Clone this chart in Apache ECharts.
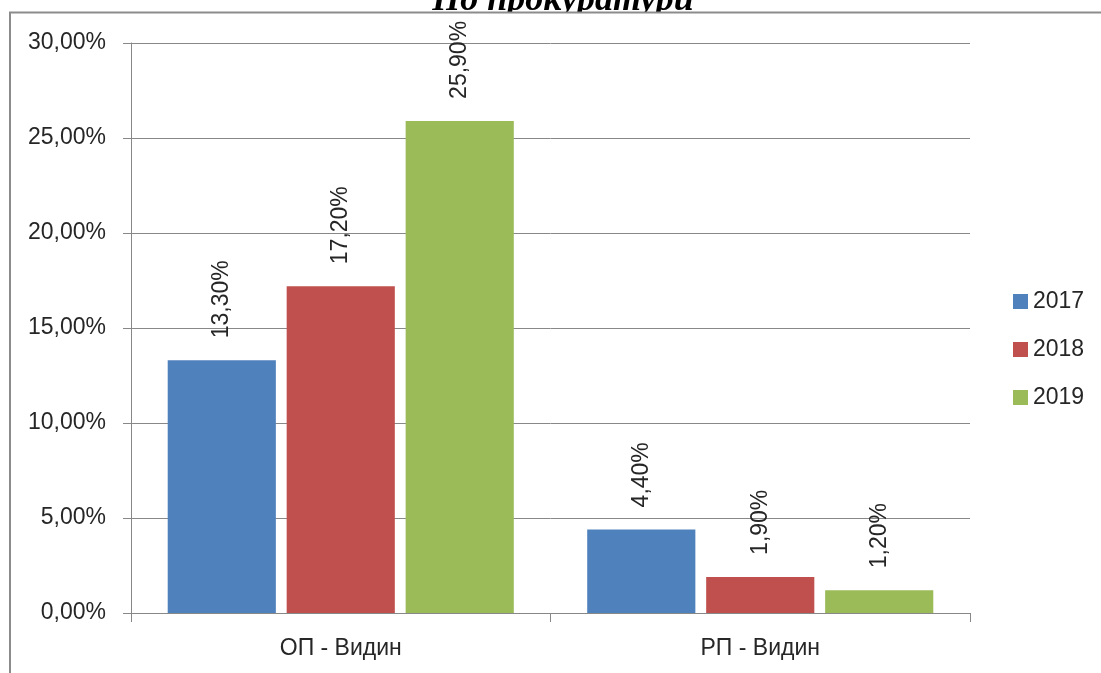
<!DOCTYPE html>
<html>
<head>
<meta charset="utf-8">
<script src="https://cdn.jsdelivr.net/npm/echarts@6/dist/echarts.min.js"></script>
<style>
html,body{margin:0;padding:0;background:#fff;}
#chart{width:1101px;height:673px;}
</style>
</head>
<body>
<div id="chart"></div>
<script>
const categories = ['ОП - Видин', 'РП - Видин'];
const seriesNames = ['2017', '2018', '2019'];
const values2017 = [13.3, 4.4];
const values2018 = [17.2, 1.9];
const values2019 = [25.9, 1.2];
const yTicks = [0, 5, 10, 15, 20, 25, 30];
const titleText = 'По прокуратури';

const colors = ['#4f81bd', '#c0504d', '#9bbb59'];
const fmt = v => Number(v).toFixed(2).replace('.', ',') + '%';
const font = '"Liberation Sans", Arial, sans-serif';

const chart = echarts.init(document.getElementById('chart'));
const dataSets = [values2017, values2018, values2019];

chart.setOption({
  animation: false,
  color: colors,
  graphic: [
    { type: 'text', x: 563, y: 19, z: 1, style: { text: titleText, font: 'italic bold 36px "Liberation Serif", "Times New Roman", serif', fill: '#000', align: 'center', verticalAlign: 'bottom' } },
    { type: 'rect', z: 2, shape: { x: 0, y: 12, width: 1101, height: 8 }, style: { fill: '#fff' } },
    { type: 'line', z: 3, shape: { x1: 9, y1: 12.5, x2: 1101, y2: 12.5 }, style: { stroke: '#8c8c8c', lineWidth: 2 } },
    { type: 'line', z: 3, shape: { x1: 10, y1: 12, x2: 10, y2: 673 }, style: { stroke: '#8c8c8c', lineWidth: 2 } }
  ],
  legend: {
    orient: 'vertical',
    left: 1008,
    top: 285,
    itemWidth: 15,
    itemHeight: 15,
    itemGap: 25,
    icon: 'rect',
    textStyle: { fontFamily: font, fontSize: 23, color: '#262626' },
    data: seriesNames
  },
  grid: { left: 131, right: 131, top: 43, bottom: 60, containLabel: false },
  xAxis: {
    type: 'category',
    data: categories,
    axisLine: { lineStyle: { color: '#888', width: 1 } },
    axisTick: { show: true, length: 9, lineStyle: { color: '#888' } },
    axisLabel: { fontFamily: font, fontSize: 23, color: '#262626', margin: 24 }
  },
  yAxis: {
    type: 'value',
    min: yTicks[0],
    max: yTicks[yTicks.length - 1],
    interval: yTicks[1] - yTicks[0],
    axisLine: { show: true, lineStyle: { color: '#888', width: 1 } },
    axisTick: { show: true, length: 8, lineStyle: { color: '#888' } },
    splitLine: { lineStyle: { color: '#888', width: 1 } },
    axisLabel: { fontFamily: font, fontSize: 23, color: '#262626', margin: 25, formatter: fmt }
  },
  series: seriesNames.map((name, i) => ({
    name: name,
    type: 'bar',
    data: dataSets[i],
    barGap: '10%',
    barCategoryGap: '17.5%',
    itemStyle: { color: colors[i] },
    label: {
      show: true,
      position: 'top',
      rotate: 90,
      align: 'left',
      verticalAlign: 'middle',
      distance: 22,
      fontFamily: font,
      fontSize: 23,
      color: '#262626',
      formatter: p => fmt(p.value)
    }
  }))
});
</script>
</body>
</html>
